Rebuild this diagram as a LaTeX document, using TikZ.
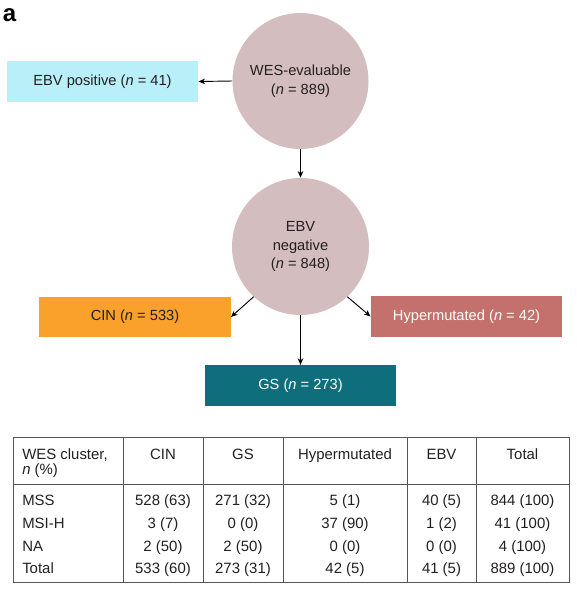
\documentclass[tikz,border=0pt]{standalone}
\usepackage{fontspec}
\setmainfont{Liberation Sans}
\usetikzlibrary{arrows.meta,calc}
\definecolor{circfill}{HTML}{D4BDBF}
\definecolor{cyanfill}{HTML}{B8EFF8}
\definecolor{orangefill}{HTML}{F9A12B}
\definecolor{hypfill}{HTML}{C4706C}
\definecolor{gsfill}{HTML}{0F6E7C}
\definecolor{txt}{HTML}{231F20}
\definecolor{rule}{HTML}{555555}
\tikzset{
  bub/.style={circle,fill=circfill,draw=none,minimum size=102pt,inner sep=0pt,align=center,
    font=\fontsize{11}{13.9}\selectfont,text=txt},
  catbox/.style={rectangle,draw=none,minimum width=143.5pt,minimum height=30.5pt,inner sep=0pt,
    font=\fontsize{11}{13.9}\selectfont},
  conn/.style={-{Stealth[length=5pt,width=4.2pt]},line width=0.7pt,black},
  tcell/.style={anchor=base,inner sep=0pt,font=\fontsize{11.2}{13.9}\selectfont,text=txt},
  tleft/.style={tcell,anchor=base west},
  tline/.style={line width=0.65pt,draw=rule}
}
\begin{document}
\begin{tikzpicture}[x=0.75pt,y=-0.75pt]
\useasboundingbox (0,0) rectangle (577,589);
% panel label
\node[anchor=center,inner sep=0pt,font=\fontsize{18}{20}\selectfont\bfseries,text=black] (lbl) at (9.5,15) {a};
% flow chart
\node[bub] (wes) at (300.5,81) {WES-evaluable\\(\textit{n} = 889)};
\node[bub,minimum size=102.75pt] (neg) at (300.5,246.5) {EBV\\negative\\(\textit{n} = 848)};
\node[catbox,fill=cyanfill,text=txt] (pos) at (102.5,81.5) {EBV positive (\textit{n} = 41)};
\node[catbox,fill=orangefill,text=txt] (cin) at (135,317) {CIN (\textit{n} = 533)};
\node[catbox,fill=hypfill,text=white] (hyp) at (466.5,316.5) {Hypermutated (\textit{n} = 42)};
\node[catbox,fill=gsfill,text=white] (gs) at (300.5,385.5) {GS (\textit{n} = 273)};
\draw[conn] (wes.west) -- (pos.east);
\draw[conn] (wes.south) -- (neg.north);
\draw[conn] (neg.227) -- (cin.east);
\draw[conn] (neg.313) -- (hyp.west);
\draw[conn] (neg.south) -- (gs.north);
% table
\draw[tline] (13,437) rectangle (569,582);
\draw[tline] (13,484) -- (569,484);
\foreach \xx in {123,203,283,407,476} \draw[tline] (\xx,437) -- (\xx,582);
% header
\node[tleft] (h0) at (22,459) {WES cluster,};
\node[tleft] (h0b) at (22,474) {\textit{n} (\%)};
\node[tcell] (h1) at (163,459) {CIN};
\node[tcell] (h2) at (243,459) {GS};
\node[tcell] (h3) at (345,459) {Hypermutated};
\node[tcell] (h4) at (441.5,459) {EBV};
\node[tcell] (h5) at (522.5,459) {Total};
% rows
\node[tleft] (r1) at (22,505) {MSS};
\node[tleft] (r2) at (22,528) {MSI-H};
\node[tleft] (r3) at (22,551) {NA};
\node[tleft] (r4) at (22,573) {Total};
\node[tcell] at (163,505) {528 (63)};
\node[tcell] at (243,505) {271 (32)};
\node[tcell] at (345,505) {5 (1)};
\node[tcell] at (441.5,505) {40 (5)};
\node[tcell] at (522.5,505) {844 (100)};
\node[tcell] at (163,528) {3 (7)};
\node[tcell] at (243,528) {0 (0)};
\node[tcell] at (345,528) {37 (90)};
\node[tcell] at (441.5,528) {1 (2)};
\node[tcell] at (522.5,528) {41 (100)};
\node[tcell] at (163,551) {2 (50)};
\node[tcell] at (243,551) {2 (50)};
\node[tcell] at (345,551) {0 (0)};
\node[tcell] at (441.5,551) {0 (0)};
\node[tcell] at (522.5,551) {4 (100)};
\node[tcell] at (163,573) {533 (60)};
\node[tcell] at (243,573) {273 (31)};
\node[tcell] at (345,573) {42 (5)};
\node[tcell] at (441.5,573) {41 (5)};
\node[tcell] at (522.5,573) {889 (100)};
\end{tikzpicture}
\end{document}
